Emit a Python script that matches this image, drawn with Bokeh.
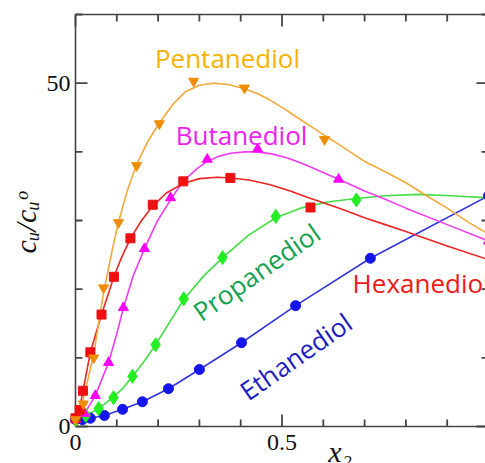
from bokeh.plotting import figure
from bokeh.models import FixedTicker, Label, Range1d, ColumnDataSource
from bokeh.core.properties import value
from bokeh.embed import file_html
from bokeh.resources import INLINE

# ---- data ----
eth_x = [0.0, 0.017, 0.036, 0.070, 0.114, 0.162, 0.225, 0.300, 0.402, 0.533, 0.714, 1.0]
eth_y = [1.0, 1.0, 1.2, 1.6, 2.5, 3.6, 5.5, 8.3, 12.2, 17.6, 24.5, 33.6]

pro_x = [0.0, 0.025, 0.056, 0.092, 0.138, 0.194, 0.262, 0.356, 0.485, 0.680]
pro_y = [1.0, 1.6, 2.6, 4.2, 7.3, 11.9, 18.6, 24.6, 30.6, 33.0]
pro_cx = [0.0, 0.025, 0.056, 0.092, 0.115, 0.138, 0.165, 0.194, 0.228, 0.262, 0.31, 0.356, 0.42, 0.485, 0.545, 0.61, 0.68, 0.75, 0.83, 0.91, 1.0]
pro_cy = [1.0, 1.6, 2.6, 4.3, 5.6, 7.3, 9.4, 11.9, 15.2, 18.5, 21.9, 24.6, 27.9, 30.4, 31.8, 32.7, 33.2, 33.6, 33.8, 33.6, 33.3]

but_x = [0.0, 0.022, 0.048, 0.080, 0.116, 0.167, 0.230, 0.319, 0.441, 0.637, 1.0]
but_y = [1.0, 1.9, 4.5, 9.3, 17.3, 25.9, 33.3, 38.9, 40.4, 36.0, 27.0]
but_cx = [0.0, 0.022, 0.048, 0.08, 0.1, 0.116, 0.14, 0.167, 0.198, 0.23, 0.25, 0.271, 0.295, 0.319, 0.345, 0.375, 0.41, 0.44, 0.475, 0.513, 0.545, 0.576, 0.637, 0.7, 0.75, 0.8, 0.9, 1.0]
but_cy = [1.0, 1.9, 4.5, 9.3, 13.5, 17.3, 22.0, 25.9, 29.9, 33.0, 34.8, 36.3, 37.6, 38.6, 39.3, 39.8, 40.0, 40.0, 39.7, 39.1, 38.4, 37.6, 36.0, 34.3, 33.1, 31.8, 29.4, 27.0]

hex_x = [0.0, 0.01, 0.018, 0.036, 0.063, 0.093, 0.133, 0.187, 0.261, 0.375, 0.569]
hex_y = [1.2, 2.4, 5.2, 10.8, 16.3, 21.8, 27.4, 32.3, 35.7, 36.2, 31.9]
hex_cx = [0.0, 0.01, 0.018, 0.036, 0.063, 0.093, 0.11, 0.133, 0.16, 0.187, 0.22, 0.261, 0.3, 0.343, 0.375, 0.42, 0.472, 0.52, 0.561, 0.6, 0.642, 0.7, 0.75, 0.8, 0.9, 1.0]
hex_cy = [1.2, 2.6, 5.2, 10.8, 16.3, 21.8, 24.4, 27.4, 30.0, 32.1, 34.0, 35.4, 36.1, 36.3, 36.2, 35.9, 35.2, 34.3, 33.4, 32.6, 31.7, 30.4, 29.4, 28.4, 26.3, 24.3]

pen_x = [0.0, 0.019, 0.044, 0.068, 0.104, 0.148, 0.203, 0.286, 0.409, 0.603]
pen_y = [1.0, 3.3, 10.0, 20.2, 29.7, 38.0, 44.1, 50.3, 49.3, 41.8]
pen_cx = [0.0, 0.019, 0.044, 0.068, 0.09, 0.104, 0.125, 0.148, 0.175, 0.203, 0.237, 0.265, 0.3, 0.334, 0.37, 0.409, 0.44, 0.472, 0.505, 0.537, 0.57, 0.603, 0.642, 0.7, 0.75, 0.8, 0.85, 0.9, 0.95, 1.0]
pen_cy = [1.0, 4.0, 10.5, 19.5, 26.0, 29.7, 34.3, 38.2, 41.5, 44.2, 47.0, 48.7, 49.7, 50.0, 49.8, 49.2, 48.5, 47.5, 46.3, 45.0, 43.7, 42.4, 40.9, 38.6, 37.1, 35.5, 33.6, 31.8, 29.8, 28.0]

x_major = [0.0, 0.5, 1.0]
x_minor = [0.1, 0.2, 0.3, 0.4, 0.6, 0.7, 0.8, 0.9]
x_label_ticks = [0.0, 0.5]
x_tick_labels = ["0", "0.5"]
y_major = [0.0, 50.0]
y_minor = [10.0, 20.0, 30.0, 40.0, 60.0]
X_MAX, Y_MAX = 1.0, 60.0

# pixel geometry of the axes box
PX_PER_X = 413.0         # pixels per unit of x
PX_PER_Y = 412.0 / 60.0  # pixels per unit of y
dx = 1.0 / PX_PER_X
dy = 1.0 / PX_PER_Y
LEFT_PAD, TOP_PAD, BOTTOM_PAD = 7, 2, 37   # frame space beyond the box, pixels
X_START, X_END = -LEFT_PAD * dx, 410 * dx
Y_START, Y_END = -BOTTOM_PAD * dy, Y_MAX + TOP_PAD * dy

p = figure(width=485, height=463, output_backend="svg", toolbar_location=None,
           x_range=Range1d(X_START, X_END), y_range=Range1d(Y_START, Y_END),
           x_axis_location=None,
           min_border_left=68, min_border_right=0, min_border_top=12, min_border_bottom=0)
p.outline_line_color = None
p.grid.visible = False
p.background_fill_color = "white"
p.border_fill_color = "white"

axis_col = "#444444"
yax = p.yaxis[0]
yax.ticker = FixedTicker(ticks=y_major, minor_ticks=[])
yax.major_tick_in = 0
yax.major_tick_out = 0
yax.minor_tick_in = 0
yax.minor_tick_out = 0
yax.axis_line_color = None
yax.major_label_text_font = "Liberation Serif"
yax.major_label_text_font_size = "24px"
yax.major_label_text_color = "#111111"
yax.major_label_standoff = -2
yax.axis_label = "\u00a0\u00a0\u00a0\u00a0c\u1d64/c\u1d64\u1d52"
yax.axis_label_text_font = "Liberation Serif"
yax.axis_label_text_font_style = "italic"
yax.axis_label_text_font_size = "30px"
yax.axis_label_text_color = "#111111"
yax.axis_label_standoff = 2

# box lines: bottom (x axis), top, left
p.segment(x0=[0.0, 0.0, 0.0], y0=[0.0, Y_MAX, 0.0], x1=[X_MAX, X_MAX, 0.0], y1=[0.0, Y_MAX, Y_MAX],
          line_color=axis_col, line_width=1.6)

# inward ticks on all four sides
tx0, ty0, tx1, ty1 = [], [], [], []
for ticks, length in ((x_major, 12), (x_minor, 7)):
    for t in ticks:
        tx0 += [t, t]
        tx1 += [t, t]
        ty0 += [0.0, Y_MAX]
        ty1 += [length * dy, Y_MAX - length * dy]
for ticks, length in ((y_major, 12), (y_minor, 7)):
    for t in ticks:
        ty0 += [t, t]
        ty1 += [t, t]
        tx0 += [0.0, X_MAX]
        tx1 += [length * dx, X_MAX - length * dx]
tick_src = ColumnDataSource(dict(x0=tx0, y0=ty0, x1=tx1, y1=ty1))
p.segment(x0="x0", y0="y0", x1="x1", y1="y1", source=tick_src,
          line_color=axis_col, line_width=1.8)

# x tick labels (below the x axis line)
p.text(x=x_label_ticks, y=[-15.5 * dy] * len(x_label_ticks), text=x_tick_labels,
       text_font=value("Liberation Serif"), text_font_size="24px", text_color="#111111",
       text_align="center", text_baseline="middle")

series = [
    (eth_x, eth_y, eth_x, eth_y, "#3535DD", "#1515EE", "circle", 10),
    (pro_cx, pro_cy, pro_x, pro_y, "#44DD44", "#22EE22", "diamond", 14),
    (but_cx, but_cy, but_x, but_y, "#F03CF0", "#FF00FF", "triangle", 10),
    (hex_cx, hex_cy, hex_x, hex_y, "#E92525", "#EE1111", "square", 9),
    (pen_cx, pen_cy, pen_x, pen_y, "#F2A93B", "#F08C00", "inverted_triangle", 10),
]
for cx, cy, mx, my, lc, mc, mk, sz in series:
    p.line(cx, cy, line_color=lc, line_width=1.6)
for cx, cy, mx, my, lc, mc, mk, sz in series:
    p.scatter(mx, my, marker=mk, size=sz, fill_color=mc, line_color=mc)

font = "Open Sans"
labels = [
    ("Pentanediol", 0.368, 53.7, 0, "#F5B300", "center", "26px"),
    ("Butanediol", 0.402, 42.4, 0, "#EE22EE", "center", "26px"),
    ("Hexanediol", 0.671, 20.9, 0, "#F01818", "left", "26px"),
    ("Propanediol", 0.438, 22.5, 35, "#12A050", "center", "26px"),
    ("Ethanediol", 0.533, 10.2, 35, "#1C1CC0", "center", "26px"),
]
for txt, lx, ly, ang, col, al, fs in labels:
    p.add_layout(Label(x=lx, y=ly, text=txt, angle=ang, angle_units="deg",
                       text_font=font, text_font_size=fs, text_color=col,
                       text_align=al, text_baseline="middle"))

# x axis title
p.add_layout(Label(x=0.612, y=-25 * dy, text="x\u2082", text_font="Liberation Serif",
                   text_font_style="italic", text_font_size="30px", text_color="#111111",
                   text_align="left", text_baseline="middle"))

open("out.html", "w").write(file_html(p, INLINE))
